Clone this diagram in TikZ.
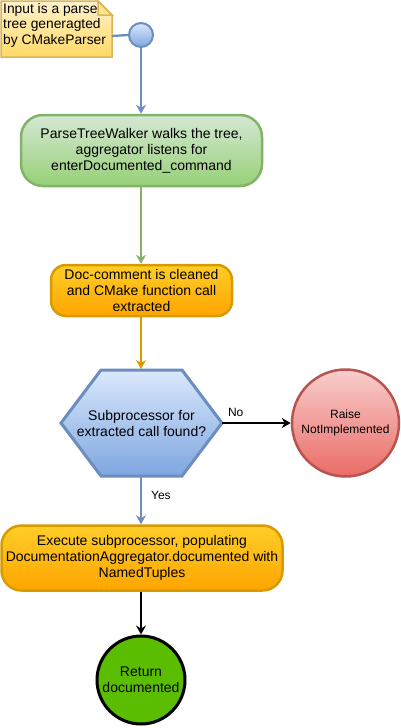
\documentclass[tikz,border=0pt]{standalone}
\usepackage{fontspec}
\setmainfont{Liberation Sans}
\usetikzlibrary{arrows.meta,shapes.geometric}
\definecolor{bluefill1}{HTML}{DAE8FC}
\definecolor{bluefill2}{HTML}{7EA6E0}
\definecolor{blueline}{HTML}{6C8EBF}
\definecolor{greenfill1}{HTML}{D5E8D4}
\definecolor{greenfill2}{HTML}{97D077}
\definecolor{greenline}{HTML}{82B366}
\definecolor{orangefill1}{HTML}{FFCD28}
\definecolor{orangefill2}{HTML}{FFA500}
\definecolor{orangeline}{HTML}{D79B00}
\definecolor{redfill1}{HTML}{F8CECC}
\definecolor{redfill2}{HTML}{EA6B66}
\definecolor{redline}{HTML}{B85450}
\definecolor{notefill1}{HTML}{FFF2CC}
\definecolor{notefill2}{HTML}{FFD966}
\definecolor{noteline}{HTML}{D6B656}
\definecolor{endfill}{HTML}{5BBD00}
\tikzset{
  x=1pt,y=-1pt,
  txt/.style={font=\fontsize{14}{16}\selectfont, align=center, text=black},
  smalltxt/.style={font=\fontsize{12}{15}\selectfont, align=center, text=black},
  conn/.style={line width=2.3pt, -{Stealth[length=9pt,width=10pt,inset=3pt]}},
  lbl/.style={font=\fontsize{12}{14}\selectfont, text=black, inner sep=0pt}
}
\begin{document}
\begin{tikzpicture}
\useasboundingbox (0,0) rectangle (401,728);
% note
\shade[top color=notefill1,bottom color=notefill2] (1,1) -- (98,1) -- (112,15) -- (112,57) -- (1,57) -- cycle;
\draw[noteline,line width=1.5pt] (1,1) -- (98,1) -- (112,15) -- (112,57) -- (1,57) -- cycle;
\draw[noteline,line width=1.5pt,fill=notefill2!60!notefill1] (98,1) -- (98,15) -- (112,15) -- cycle;
\node[font=\fontsize{13.8}{15.5}\selectfont, align=left, anchor=north west, inner sep=0pt, text=black] (note) at (3,3) {Input is a parse\\tree generagted\\by CMakeParser};
\coordinate (noteR) at (112,36);
% start
\node[circle, minimum size=24pt, inner sep=0pt, draw=blueline, line width=2pt, top color=bluefill1, bottom color=bluefill2] (start) at (141,35) {};
\draw[blueline, line width=2.3pt] (noteR) -- (start.west);
% walker
\node[txt, draw=greenline, line width=2.5pt, rounded corners=22pt, top color=greenfill1, bottom color=greenfill2, minimum width=241pt, minimum height=71pt, inner sep=0pt] (walk) at (141.5,150.5) {ParseTreeWalker walks the tree,\\aggregator listens for\\enterDocumented\_command};
% clean
\node[txt, draw=orangeline, line width=2.5pt, rounded corners=15pt, top color=orangefill1, bottom color=orangefill2, minimum width=181pt, minimum height=51pt, inner sep=0pt] (clean) at (141.5,290.5) {Doc-comment is cleaned\\and CMake function call\\extracted};
% hexagon
\coordinate (hexc) at (141.5,423);
\shade[top color=bluefill1,bottom color=bluefill2] (61,423) -- (101,370) -- (182,370) -- (222,423) -- (182,476) -- (101,476) -- cycle;
\draw[blueline, line width=3pt, line join=miter] (61,423) -- (101,370) -- (182,370) -- (222,423) -- (182,476) -- (101,476) -- cycle;
\node[txt, minimum width=161pt, minimum height=106pt, inner sep=0pt] (hex) at (hexc) {Subprocessor for\\extracted call found?};
% raise
\node[smalltxt, circle, draw=redline, line width=2.5pt, top color=redfill1, bottom color=redfill2, minimum size=107pt, inner sep=0pt] (raise) at (345.5,423) {Raise\\NotImplemented};
% execute
\node[txt, draw=orangeline, line width=2.5pt, rounded corners=20pt, top color=orangefill1, bottom color=orangefill2, minimum width=281pt, minimum height=65pt, inner sep=0pt] (exec) at (142,558) {Execute subprocessor, populating\\DocumentationAggregator.documented with\\NamedTuples};
% end
\node[txt, circle, draw=black, line width=3pt, fill=endfill, minimum size=88pt, inner sep=0pt] (done) at (141,680) {Return\\documented};
% connectors
\draw[conn, blueline] (start.south) -- (walk.north -| start.south);
\draw[conn, greenline] (141,186) -- (clean.north -| 141,0);
\draw[conn, orangeline] (clean.south -| 141,0) -- (141,369);
\draw[conn, black] (222,423) -- (raise.west) node[lbl, pos=0.2, above=5pt] (no) {No};
\draw[conn, blueline] (141,477) -- (exec.north -| 141,0) node[lbl, pos=0.38, right=9pt] (yes) {Yes};
\draw[conn, black] (exec.south -| 141,0) -- (done.north);
\end{tikzpicture}
\end{document}
